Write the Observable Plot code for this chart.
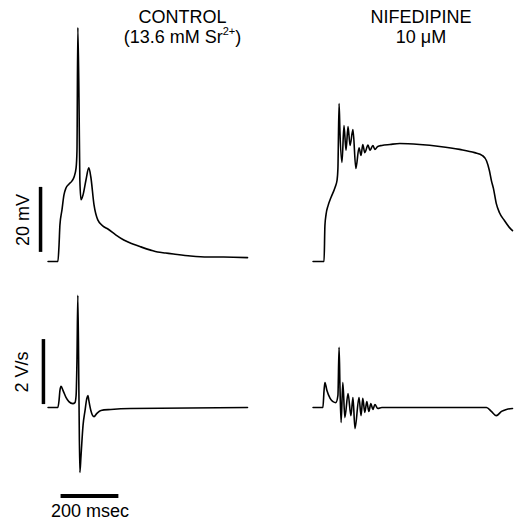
<!DOCTYPE html>
<html><head><meta charset="utf-8">
<script src="https://cdn.jsdelivr.net/npm/d3@7"></script>
<script src="https://cdn.jsdelivr.net/npm/@observablehq/plot@0.6"></script>
<style>
body{margin:0;background:#fff;font-family:"Liberation Sans",Arial,Helvetica,sans-serif;}
#wrap{position:relative;width:514px;height:520px;overflow:hidden;background:#fff;}
.title{position:absolute;top:7px;width:170px;text-align:center;font-size:18px;line-height:20px;color:#000;}
.title sup{font-size:11px;vertical-align:baseline;position:relative;top:-8px;}
#top{position:absolute;left:0;top:0;}
#bot{position:absolute;left:0;top:280px;}
</style></head><body>
<div id="wrap"><div id="top"></div><div id="bot"></div></div>
<script>
// Conditions and titles
const conditions = ["CONTROL", "NIFEDIPINE"];
const titleLines = ["CONTROL", "NIFEDIPINE"];
const subtitleLines = ["(13.6 mM Sr<sup>2+</sup>)", "10 μM"];

// Membrane potential (mV above rest) vs time (ms)
const controlT = [0,34,38,41,48,55,62,72,83,90,97,100,103,107,110,114,121,131,141,148,159,172,190,207,234,262,293,321,355,379,407,434,493,552,607,690];
const controlV = [0,0,5.1,11.2,15.8,20.5,22.6,23.8,24.8,26,28.8,34,72,50,25,19,20.5,25,28.8,26,17.4,12.8,10.9,10,8.2,6.6,5.4,4.5,3.5,2.9,2.6,2.3,1.7,1.4,1.4,1.2];
const nifT = [0,38,41,45,52,62,76,83,86,90,93,100,107,114,121,128,138,148,159,166,172,179,190,197,207,214,224,238,266,300,369,438,507,559,586,600,610,617,624,634,645,662,679,690];
const nifV = [0,0,11,14.5,17.2,19.7,22.8,25,28.6,48.6,40,30.5,41.8,34.2,41.5,35.7,40.6,28.6,35,32.6,36,33.5,35.8,34.2,35.7,34.5,35.4,35.7,36,36.3,36,35.4,34.5,33.5,32.6,31,28,24.9,22.5,17.8,15,12.6,10.5,9.5];

// dV/dt (V/s) vs time (ms)
const controlDT = [0,34,38,41,45,52,62,72,86,93,97,100,103,107,110,114,121,128,134,138,141,148,159,169,183,217,286,690];
const controlDV = [0,0,0.22,0.52,0.65,0.52,0.31,0.18,0.12,0.15,0.37,1.45,3.45,0.22,-2.0,-1.48,-0.55,-0.09,0.28,0.37,0.22,-0.09,-0.28,-0.18,-0.09,-0.06,-0.03,0];
const nifDT = [0,34,38,41,48,59,69,79,86,90,93,97,103,110,121,131,138,145,159,166,172,179,186,193,200,207,214,224,238,600,617,634,652,669,690];
const nifDV = [0,0,0.52,0.77,0.52,0.28,0.18,0.15,0.37,1.85,0.68,-0.46,0.77,-0.31,0.43,-0.25,0.31,-0.65,0.31,-0.25,0.28,-0.15,0.18,-0.12,0.12,-0.06,0.09,-0.03,0,0,-0.12,-0.25,-0.12,-0.06,-0.03];

// Scale bars
const voltBar = [{cond: "CONTROL", t: -26, from: 2.8, to: 22.8, label: "20 mV"}];
const slopeBar = [{cond: "CONTROL", t: -16, from: 0.09, to: 2.09, label: "2 V/s"}];
const timeBar = [{cond: "CONTROL", from: 45, to: 245, at: -2.72, label: "200 msec"}];

const FONT = "Liberation Sans, Arial, Helvetica, sans-serif";
const series = (cond, ts, vs) => ts.map((t, i) => ({cond, t, v: vs[i]}));
const vData = [...series("CONTROL", controlT, controlV), ...series("NIFEDIPINE", nifT, nifV)];
const dData = [...series("CONTROL", controlDT, controlDV), ...series("NIFEDIPINE", nifDT, nifDV)];

const common = {
  width: 514, marginLeft: 35.4, marginRight: 0.9, marginTop: 0, marginBottom: 0,
  fx: {domain: conditions, paddingInner: 0.204, paddingOuter: 0, axis: null, label: null},
  x: {domain: [-40, 690], axis: null},
  style: {background: "transparent", overflow: "visible"}
};

const topPlot = Plot.plot({
  ...common, height: 280,
  y: {domain: [0, 20], range: [261, 196], axis: null},
  marks: [
    Plot.line(vData, {x: "t", y: "v", fx: "cond", z: "cond", stroke: "#000", strokeWidth: 1.6, curve: "monotone-x"}),
    Plot.ruleX(voltBar, {x: "t", y1: "from", y2: "to", fx: "cond", stroke: "#000", strokeWidth: 3.5}),
    Plot.text(voltBar, {x: "t", y: d => (d.from + d.to) / 2, text: "label", fx: "cond", rotate: -90, dx: -17, fontSize: 18, fontFamily: FONT, fill: "#000"})
  ]
});

const botPlot = Plot.plot({
  ...common, height: 240,
  y: {domain: [0, 2], range: [127, 62], axis: null},
  marks: [
    Plot.line(dData, {x: "t", y: "v", fx: "cond", z: "cond", stroke: "#000", strokeWidth: 1.6, curve: "monotone-x"}),
    Plot.ruleX(slopeBar, {x: "t", y1: "from", y2: "to", fx: "cond", stroke: "#000", strokeWidth: 3.5}),
    Plot.text(slopeBar, {x: "t", y: d => (d.from + d.to) / 2, text: "label", fx: "cond", rotate: -90, dx: -21, fontSize: 18, fontFamily: FONT, fill: "#000"}),
    Plot.ruleY(timeBar, {y: "at", x1: "from", x2: "to", fx: "cond", stroke: "#000", strokeWidth: 4}),
    Plot.text(timeBar, {x: d => (d.from + d.to) / 2, y: "at", text: "label", fx: "cond", dy: 15, fontSize: 18, fontFamily: FONT, fill: "#000"})
  ]
});

document.getElementById("top").appendChild(topPlot);
document.getElementById("bot").appendChild(botPlot);

// Titles
const titleCenters = [182.5, 421];
conditions.forEach((c, i) => {
  const div = document.createElement("div");
  div.className = "title";
  div.style.left = (titleCenters[i] - 85) + "px";
  div.innerHTML = titleLines[i] + "<br>" + subtitleLines[i];
  document.getElementById("wrap").appendChild(div);
});
</script>
</body></html>
